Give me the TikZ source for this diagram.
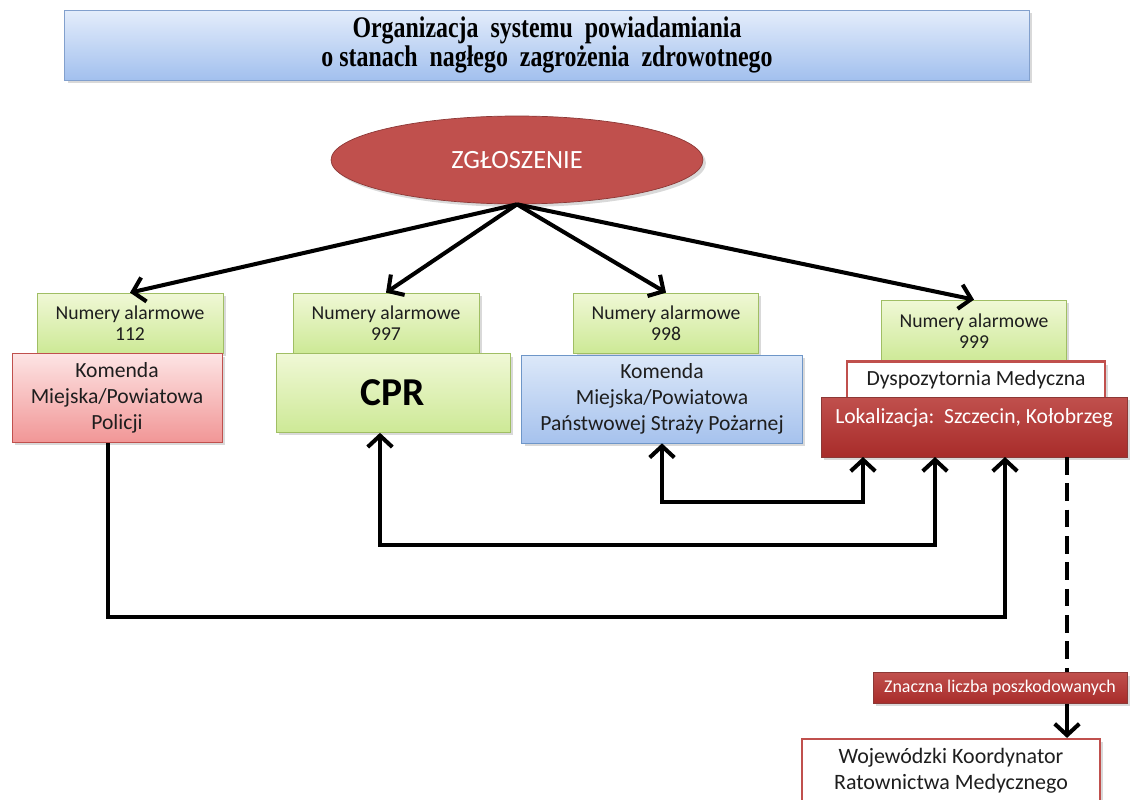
\documentclass[tikz,border=0pt]{standalone}
\usepackage{fontspec}
\setmainfont{Carlito}
\newfontfamily\titlefont[FakeStretch=0.8]{Liberation Serif}
\usepackage{xcolor}
\usepackage{tikz}
\usetikzlibrary{shapes,arrows.meta,shadows}
\definecolor{titletop}{RGB}{228,237,251}
\definecolor{titlebot}{RGB}{162,192,238}
\definecolor{titleborder}{RGB}{130,160,205}
\definecolor{alarmred}{RGB}{192,80,77}
\definecolor{alarmredbot}{RGB}{168,44,42}
\definecolor{alarmredline}{RGB}{140,56,54}
\definecolor{greentop}{RGB}{240,248,214}
\definecolor{greenbot}{RGB}{205,233,150}
\definecolor{greenline}{RGB}{160,190,100}
\definecolor{pinktop}{RGB}{253,228,228}
\definecolor{pinkbot}{RGB}{241,150,150}
\definecolor{bluetop}{RGB}{220,232,249}
\definecolor{bluebot}{RGB}{166,194,237}
\definecolor{blueline}{RGB}{110,150,200}
\definecolor{boxtext}{RGB}{30,30,30}
\tikzstyle{shade} = [drop shadow={opacity=0.3, shadow xshift=0.6mm, shadow yshift=-0.6mm}]
\tikzstyle{block} = [rectangle, inner sep=0pt, align=center, text=boxtext, shade]
\tikzstyle{numbox} = [block, draw=greenline, top color=greentop, bottom color=greenbot, minimum height=1.2cm, font=\fontsize{11.2}{12}\selectfont]
\tikzstyle{unitbox} = [block, font=\fontsize{12.3}{14.7}\selectfont]
\tikzstyle{redbox} = [block, draw=alarmredline, top color=alarmred, bottom color=alarmredbot, text=white]
\tikzstyle{framebox} = [block, draw=alarmred, line width=1.2pt, fill=white]
\tikzstyle{line} = [draw, line width=2.3pt, -{Straight Barb[length=6.5pt, width=14pt]}]
\tikzstyle{twoline} = [line, {Straight Barb[length=6.5pt, width=14pt]}-{Straight Barb[length=6.5pt, width=14pt]}]
\tikzstyle{dashline} = [draw, line width=2.3pt, dash pattern=on 10pt off 5pt]

\begin{document}
\begin{tikzpicture}[x=0.02cm, y=-0.02cm]
\clip (0,0) rectangle (1136,800);
\node [block, draw=titleborder, top color=titletop, bottom color=titlebot, minimum width=19.3cm, minimum height=1.4cm, text=black, font=\titlefont\bfseries\fontsize{17}{15}\selectfont] (title) at (547,45) {Organizacja\ \ systemu\ \ powiadamiania\\o\ stanach\ \ nagłego\ \ zagrożenia\ \ zdrowotnego};

\node [ellipse, draw=alarmredline, fill=alarmred, inner sep=0pt, minimum width=7.44cm, minimum height=1.76cm, text=white, font=\fontsize{15}{18}\selectfont, shade] (zgl) at (517,160) {ZGŁOSZENIE};

% numery alarmowe
\node [numbox, minimum width=3.72cm] (n112) at (130,323) {Numery alarmowe\\112};
\node [numbox, minimum width=3.72cm] (n997) at (386,323) {Numery alarmowe\\997};
\node [numbox, minimum width=3.7cm] (n998) at (666,323) {Numery alarmowe\\998};
\node [numbox, minimum width=3.7cm, minimum height=1.24cm] (n999) at (974,331) {Numery alarmowe\\999};
\path [line] (zgl.south) -- (n112.north);
\path [line] (zgl.south) -- (n997.north);
\path [line] (zgl.south) -- (n998.north);
\path [line] (zgl.south) -- (n999.north);

% sluzby
\node [unitbox, draw=alarmred, top color=pinktop, bottom color=pinkbot, minimum width=4.2cm, minimum height=1.78cm] (pol) at (117,398) {Komenda\\Miejska/Powiatowa\\Policji};
\node [numbox, minimum width=4.68cm, minimum height=1.58cm, font=\bfseries\fontsize{22.5}{26}\selectfont, text=black] (cpr) at (393,393) {CPR};
\node [unitbox, draw=blueline, top color=bluetop, bottom color=bluebot, minimum width=5.62cm, minimum height=1.76cm] (psp) at (662,399) {Komenda\\Miejska/Powiatowa\\Państwowej Straży Pożarnej};
\node [framebox, minimum width=5.16cm, minimum height=0.74cm, font=\fontsize{12.3}{14}\selectfont] (dysp) at (976,380) {Dyspozytornia Medyczna};
\node [redbox, minimum width=6.12cm, text height=0.52cm, text depth=0.68cm, font=\fontsize{12.3}{14}\selectfont] (lok) at (974,427) {Lokalizacja:\ \ Szczecin, Kołobrzeg};

\coordinate (in-psp) at (863,457);
\coordinate (in-cpr) at (935,457);
\coordinate (in-pol) at (1005,457);
\coordinate (out-woj) at (1067,457);

\path [twoline] (psp.south) -- ++(0,59) -| (in-psp);
\path [twoline] ([xshift=-0.26cm]cpr.south) -- ++(0,112) -| (in-cpr);
\path [line] ([xshift=-0.18cm]pol.south) -- ++(0,174) -| (in-pol);

% koordynator
\node [redbox, minimum width=5.08cm, minimum height=0.62cm, font=\fontsize{10.2}{12}\selectfont] (znacz) at (1000,688) {Znaczna liczba poszkodowanych};
\node [framebox, minimum width=5.96cm, minimum height=1.28cm, font=\fontsize{12.5}{14.7}\selectfont] (woj) at (951,771) {Wojewódzki Koordynator\\Ratownictwa Medycznego};
\path [dashline] (out-woj) -- (out-woj |- znacz.north);
\path [line] (out-woj |- znacz.south) -- (out-woj |- woj.north);
\end{tikzpicture}
\end{document}
